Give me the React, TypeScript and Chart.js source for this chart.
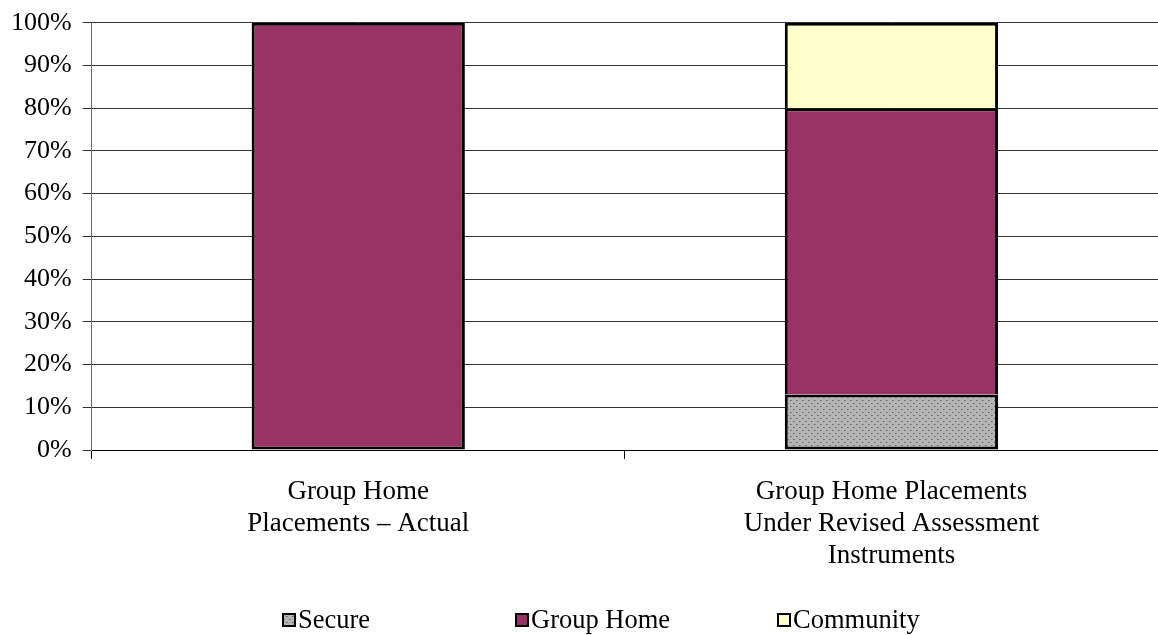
import React, { useEffect, useRef } from "react";
import { Chart, registerables } from "chart.js";

Chart.register(...registerables);

const categories: string[][] = [
  ["Group Home", "Placements – Actual"],
  ["Group Home Placements", "Under Revised Assessment", "Instruments"],
];
const secure = [0, 13];
const groupHome = [100, 67];
const community = [0, 20];
const seriesNames = ["Secure", "Group Home", "Community"];

const FONT = "'Liberation Serif', 'Times New Roman', serif";

function makeDotPattern(): CanvasPattern | string {
  const c = document.createElement("canvas");
  c.width = 6;
  c.height = 6;
  const g = c.getContext("2d");
  if (!g) return "#b0b0b0";
  g.fillStyle = "#b4b4b4";
  g.fillRect(0, 0, 6, 6);
  g.fillStyle = "#666666";
  g.fillRect(1, 1, 1, 1);
  g.fillRect(4, 4, 1, 1);
  g.fillStyle = "#8a8a8a";
  g.fillRect(2, 1, 1, 1);
  g.fillRect(5, 4, 1, 1);
  const p = g.createPattern(c, "repeat");
  return p || "#b0b0b0";
}

export default function App() {
  const ref = useRef<HTMLCanvasElement | null>(null);

  useEffect(() => {
    document.body.style.margin = "0";
    const canvas = ref.current;
    if (!canvas) return;
    const dots = makeDotPattern();
    const fills = [dots, "#993366", "#ffffcc"];
    const allSeries = [secure, groupHome, community];

    const legendPlugin = {
      id: "bottomLegend",
      afterDraw(chart: Chart) {
        const ctx = chart.ctx;
        const xs = [283, 516, 778];
        const y = 620;
        ctx.save();
        ctx.font = `26.5px ${FONT}`;
        ctx.textBaseline = "middle";
        seriesNames.forEach((name, i) => {
          const x = xs[i];
          ctx.fillStyle = fills[i] as any;
          ctx.fillRect(x, y - 6, 12, 12);
          ctx.strokeStyle = "#000";
          ctx.lineWidth = 2;
          ctx.strokeRect(x, y - 6, 12, 12);
          ctx.fillStyle = "#000";
          ctx.fillText(name, x + 15, y + 1);
        });
        ctx.restore();
      },
    };

    // A segment resting on another one lets the lower segment's top edge act as its border.
    const skipEdge = (c: any) => {
      for (let k = 0; k < c.datasetIndex; k++) {
        if (allSeries[k][c.dataIndex]) return "start";
      }
      return false;
    };

    const chart = new Chart(canvas, {
      type: "bar",
      data: {
        labels: categories,
        datasets: [
          { label: seriesNames[0], data: secure, backgroundColor: dots as any },
          { label: seriesNames[1], data: groupHome, backgroundColor: "#993366" },
          { label: seriesNames[2], data: community, backgroundColor: "#ffffcc" },
        ].map((d) => ({
          ...d,
          borderColor: "#000",
          borderWidth: (c: any) => (c.raw ? 3 : 0),
          borderSkipped: skipEdge as any,
          categoryPercentage: 1,
          barPercentage: 0.4,
        })),
      },
      options: {
        animation: false,
        responsive: false,
        maintainAspectRatio: false,
        layout: { padding: { top: 0, right: 0, bottom: 46, left: 0 } },
        plugins: {
          legend: { display: false },
          tooltip: { enabled: false },
        },
        scales: {
          x: {
            stacked: true,
            offset: true,
            grid: {
              display: true,
              drawOnChartArea: false,
              color: "#000",
              tickLength: 9,
              offset: true,
            },
            border: { color: "#000", width: 1 },
            ticks: {
              color: "#000",
              font: { family: FONT, size: 27, lineHeight: 1.185 },
              padding: 17,
              maxRotation: 0,
            },
          },
          y: {
            stacked: true,
            min: 0,
            max: 100,
            grid: { color: "#333", tickLength: 9 },
            border: { color: "#666", width: 1 },
            ticks: {
              stepSize: 10,
              color: "#000",
              font: { family: FONT, size: 26, lineHeight: 0.9 },
              padding: 11,
              callback: (v) => `${v}%`,
            },
          },
        },
      },
      plugins: [legendPlugin],
    });
    return () => chart.destroy();
  }, []);

  return <canvas ref={ref} width={1158} height={635} style={{ display: "block" }} />;
}
